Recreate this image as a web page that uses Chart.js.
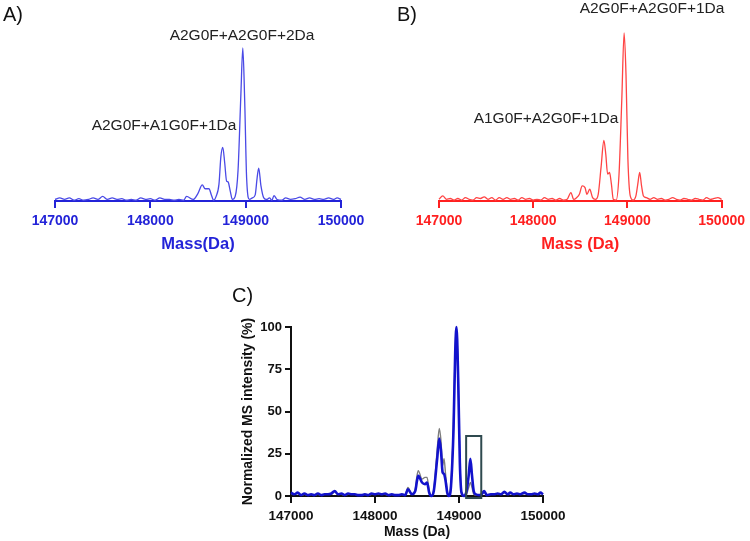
<!DOCTYPE html>
<html>
<head>
<meta charset="utf-8">
<script src="https://cdn.jsdelivr.net/npm/chart.js@4.4.0/dist/chart.umd.min.js"></script>
<style>
  body { margin: 0; width: 750px; height: 541px; background: #fff; position: relative; overflow: hidden;
         font-family: "Liberation Sans", Arial, sans-serif; }
  canvas { position: absolute; }
  .lbl { position: absolute; white-space: nowrap; color: #222; font-size: 15.5px; transform: translate(-50%, -50%); }
  .tag { position: absolute; font-size: 20px; color: #111; line-height: 1; }
</style>
</head>
<body>
<canvas id="chartA" width="375" height="265" style="left:0;top:0"></canvas>
<canvas id="chartB" width="375" height="265" style="left:375px;top:0"></canvas>
<canvas id="chartC" width="350" height="241" style="left:238px;top:300px"></canvas>

<div class="tag" style="left:3px;top:4px">A)</div>
<div class="tag" style="left:397px;top:4px">B)</div>
<div class="tag" style="left:232px;top:285px">C)</div>
<div class="lbl" style="left:242px;top:35px">A2G0F+A2G0F+2Da</div>
<div class="lbl" style="left:164px;top:125px">A2G0F+A1G0F+1Da</div>
<div class="lbl" style="left:652px;top:8px">A2G0F+A2G0F+1Da</div>
<div class="lbl" style="left:546px;top:118px">A1G0F+A2G0F+1Da</div>

<script>
// masses (Da) and relative intensities (%)
const massA = [147000,147050,147100,147150,147200,147250,147300,147350,147400,147450,147500,147550,147600,147650,147700,147750,147800,147850,147900,147950,
  148000,148050,148100,148150,148200,148250,148300,148350,148380,148450,148500,148545,148575,148615,148640,148665,148690,148720,148740,148760,
  148780,148800,148815,148840,148860,148890,148920,148950,148970,148990,149010,149040,149070,149100,149120,149137,149160,149190,149220,149250,
  149275,149297,149330,149380,149420,149470,149520,149570,149620,149670,149720,149770,149820,149870,149920,149960,150000];
const intensityA = [1,2,1,2,0.5,1.5,0.5,1,2,1,3,1,2,1,1.5,0.5,1,0.5,2,1,
  1.5,0.5,2,1,1,0.5,1,0.5,3,1,5,10.5,8,8,4,0.5,3,11,29,35,
  25,13,12.5,6,1,3,20,70,100,65,15,1,2,4,15,21.5,10,2,1,2,
  0.5,3.5,1,0.5,2,1,1.5,2.5,1,2,1,1.5,1,2,1,2,1];

const massB = [147000,147040,147080,147120,147160,147200,147240,147280,147320,147360,147400,147440,147480,147520,147560,147600,147640,147680,147720,147760,
  147800,147840,147880,147920,147960,148000,148040,148080,148120,148160,148200,148240,148280,148320,148360,148400,148430,148460,148490,148520,
  148550,148570,148600,148630,148660,148690,148720,148750,148770,148790,148810,148830,148850,148880,148910,148940,148965,148985,149005,149030,
  149060,149090,149110,149130,149150,149170,149200,149240,149280,149320,149360,149400,149440,149480,149520,149560,149600,149640,149680,149720,
  149760,149800,149840,149880,149920,149960,150000];
const intensityB = [1,3,1,1.5,0.5,1.5,0.5,2,1,0.5,2,1.5,2.5,1,2,0.5,2,1,2,1,
  1.5,0.5,2,1,1.5,0.5,1,0.5,2,1,1.5,0.5,1.5,0.5,1,5,1,2,4,9,
  8,4,7,2,1,4,20,36,28,16,17,10,1,0.5,15,60,100,75,25,3,
  0.5,3,10,17,9,3,2,1,2,1,1.5,0.5,1,2,1,0.5,1.5,1,0.5,1.5,
  1,0.5,2,1,1.5,2,1];

const massC = [147000,147040,147080,147120,147160,147200,147240,147280,147320,147360,147400,147440,147480,147520,147560,147600,147640,147680,147720,147760,
  147800,147840,147880,147920,147960,148000,148040,148080,148120,148160,148200,148240,148280,148320,148360,148392,148440,148480,148500,148515,
  148560,148595,148620,148645,148670,148700,148740,148765,148785,148805,148822,148840,148860,148880,148905,148935,148955,148970,148990,149010,
  149030,149060,149090,149115,149135,149155,149175,149200,149240,149270,149300,149330,149380,149420,149460,149500,149540,149580,149610,149650,
  149690,149730,149780,149820,149860,149900,149940,149970,150000];
const intensityBlue = [2,1,2,0.5,1.5,0.5,1,0.5,1.5,0.5,1,1,1.5,3,1,1.5,0.5,1.5,1,1,
  0.5,0.5,1,0.5,1.5,1,1.5,1,1.5,0.5,1,0.5,0.5,1,0.5,4,1,3,9,12,
  8,7,8,2,0,3,22,34,27,14,13,9,2,0,6,40,85,100,70,20,
  2,0,3,12,22,12,3,1,0.5,1,3,0.5,1,1,1.5,1,2.5,1,2,1,
  1.5,1,2,1,1,1.5,1,2,1];
const intensityGray = [1.5,1,1.5,0.5,1,0.5,1,0.5,1,0.5,1,1,1,2.5,1,1,0.5,1,1,1,
  0.5,0.5,1,0.5,1,1,1,1,1,0.5,1,0.5,0.5,1,0.5,5,1,4,12,15,
  10,11,11,3,0,4,27,40,33,18,22,13,3,0,8,45,88,100,72,22,
  2,0,1,5,8,5,1,0.5,0.5,1,2,0.5,1,1,1,1,2,1,1.5,1,
  1,1,1.5,1,1,1,1,1.5,1];

const massTicks = [147000, 148000, 149000, 150000];
const intensityTicks = [0, 25, 50, 75, 100];
const boxMass = [149085, 149265];
const boxIntensity = [-1.2, 35.5];

const FONT = '"Liberation Sans", Arial, sans-serif';
const toPoints = (xs, ys) => xs.map((x, i) => ({ x, y: ys[i] }));

function massAxis(color, title, height, tickSize, titleSize) {
  return {
    type: 'linear', min: 147000, max: 150000,
    afterBuildTicks: (s) => { s.ticks = massTicks.map(v => ({ value: v })); },
    afterFit: (s) => { s.height = height; },
    border: { color, width: 2 },
    grid: { drawOnChartArea: false, drawTicks: true, tickLength: 7, color, lineWidth: 2 },
    ticks: { color, padding: 5, maxRotation: 0, font: { family: FONT, size: tickSize, weight: 'bold' },
             callback: (v) => String(v) },
    title: { display: true, text: title, color, padding: { top: 2, bottom: 0 },
             font: { family: FONT, size: titleSize, weight: 'bold' } },
  };
}

function spectrum(id, xs, ys, lineColor, axisColor, title, pad) {
  return new Chart(document.getElementById(id), {
    type: 'line',
    data: { datasets: [{ data: toPoints(xs, ys), borderColor: lineColor, borderWidth: 1.3,
                         pointRadius: 0, cubicInterpolationMode: 'monotone', clip: false }] },
    options: {
      responsive: false, animation: false,
      layout: { padding: pad },
      plugins: { legend: { display: false }, tooltip: { enabled: false } },
      scales: {
        x: massAxis(axisColor, title, 53, 14, 16.5),
        y: { display: false, min: 0, max: 100 },
      },
    },
  });
}

spectrum('chartA', massA, intensityA, '#4a4ae6', '#2323d8', 'Mass(Da)', { left: 55, right: 34, top: 48, bottom: 11 });
spectrum('chartB', massB, intensityB, '#ff4444', '#ff2020', 'Mass (Da)', { left: 64, right: 25, top: 33, bottom: 11 });

// rectangle highlighting the 149.1 kDa peak
const boxPlugin = {
  id: 'box',
  afterDatasetsDraw(chart) {
    const { ctx, scales: { x, y } } = chart;
    const x0 = x.getPixelForValue(boxMass[0]), x1 = x.getPixelForValue(boxMass[1]);
    const y0 = y.getPixelForValue(boxIntensity[1]), y1 = y.getPixelForValue(boxIntensity[0]);
    ctx.save();
    ctx.strokeStyle = '#2f4a4f';
    ctx.lineWidth = 2;
    ctx.strokeRect(x0, y0, x1 - x0, y1 - y0);
    ctx.restore();
  },
};

new Chart(document.getElementById('chartC'), {
  type: 'line',
  data: {
    datasets: [
      { data: toPoints(massC, intensityBlue), borderColor: '#1212cc', borderWidth: 2.6,
        pointRadius: 0, cubicInterpolationMode: 'monotone', clip: false },
      { data: toPoints(massC, intensityGray), borderColor: '#7d7d7d', borderWidth: 1.4,
        pointRadius: 0, cubicInterpolationMode: 'monotone', clip: false, order: 1 },
    ],
  },
  options: {
    responsive: false, animation: false,
    layout: { padding: { left: 0, right: 45, top: 27, bottom: 0 } },
    plugins: { legend: { display: false }, tooltip: { enabled: false } },
    scales: {
      x: massAxis('#111', 'Mass (Da)', 45, 13.5, 14),
      y: {
        min: 0, max: 100,
        afterBuildTicks: (s) => { s.ticks = intensityTicks.map(v => ({ value: v })); },
        afterFit: (s) => { s.width = 53; },
        border: { color: '#111', width: 2 },
        grid: { drawOnChartArea: false, drawTicks: true, tickLength: 6, color: '#111', lineWidth: 2 },
        ticks: { color: '#111', padding: 3, font: { family: FONT, size: 13, weight: 'bold' } },
        title: { display: true, text: 'Normalized MS intensity (%)', color: '#111', padding: { top: 2, bottom: 0 },
                 font: { family: FONT, size: 14, weight: 'bold' } },
      },
    },
  },
  plugins: [boxPlugin],
});
</script>
</body>
</html>
